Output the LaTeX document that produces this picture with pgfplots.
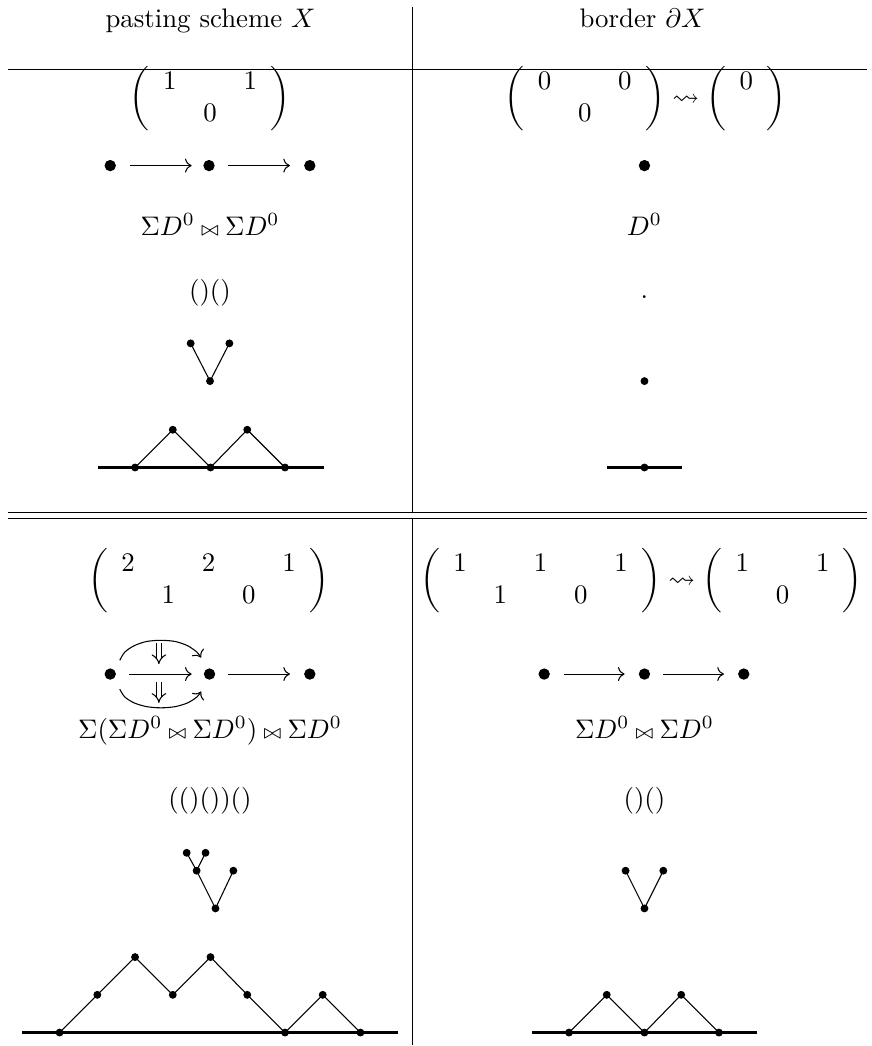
\documentclass[border=0pt]{standalone}
\usepackage{amsmath,amssymb}
\usepackage{pgfplots}
\pgfplotsset{compat=1.18}
\usetikzlibrary{arrows.meta}

% one axis unit = one pixel of the reference (873 x 1046), y downwards
\tikzset{
  rule/.style={black, line width=0.4pt},
  edge/.style={black, line width=0.4pt},
  ground/.style={black, line width=1pt},
  arr/.style={black, line width=0.4pt, -{Computer Modern Rightarrow}},
  darr/.style={black, line width=0.4pt, double, double distance=1.5pt, -{Implies}},
}
\pgfplotsset{
  dot/.style={only marks, mark=*, mark size=1.25pt, black, mark options={fill=black}},
  bigdot/.style={only marks, mark=*, mark size=1.9pt, black, mark options={fill=black}},
}
\newcommand{\bt}{\mathbin{\scriptstyle\bowtie}}
\newcommand{\mat}[2]{\biggl(\begin{array}{#1}#2\end{array}\biggr)}

\begin{document}
\begin{tikzpicture}
\begin{axis}[
  scale only axis, width=323.3pt, height=387.4pt,
  xmin=0, xmax=873, ymin=0, ymax=1046, y dir=reverse,
  hide axis, clip=false,
]
\addplot[draw=none] coordinates {(0,0) (873,1046)};

% table rules
\addplot[rule] coordinates {(415,0) (415,509.5)};
\addplot[rule] coordinates {(415,515) (415,1046)};
\addplot[rule] coordinates {(8,63.5) (873,63.5)};
\addplot[rule] coordinates {(8,509.5) (873,509.5)};
\addplot[rule] coordinates {(8,515) (873,515)};

% header
\node[anchor=base] at (axis cs:212,21) {pasting scheme $X$};
\node[anchor=base] at (axis cs:647,21) {border $\partial X$};

% ---------- first block ----------
\node at (axis cs:211.5,93) {$\mat{ccc}{1&&1\\&0&}$};
\node at (axis cs:650,93) {$\mat{ccc}{0&&0\\&0&}\rightsquigarrow\mat{c}{0\\ \phantom{0}}$};

\addplot[arr] coordinates {(131,160) (193,160)};
\addplot[arr] coordinates {(230,160) (292,160)};
\addplot[bigdot] coordinates {(111,160) (210.5,160) (312,160)};
\addplot[bigdot] coordinates {(649,160)};

\node[anchor=base] at (axis cs:211.5,230) {$\Sigma D^0 \bt \Sigma D^0$};
\node[anchor=base] at (axis cs:649,230) {$D^0$};

\node[anchor=base] at (axis cs:211.5,295) {$()()$};
\node[anchor=base] at (axis cs:649,294) {.};

\addplot[edge] coordinates {(192,339) (211.5,377) (231,339)};
\addplot[dot] coordinates {(192,339) (231,339) (211.5,377)};
\addplot[dot] coordinates {(649,377)};

\addplot[ground] coordinates {(99,464) (326,464)};
\addplot[edge] coordinates {(136,464) (174,426) (212,464) (249,426) (287,464)};
\addplot[dot] coordinates {(136,464) (174,426) (212,464) (249,426) (287,464)};
\addplot[ground] coordinates {(611,464) (687,464)};
\addplot[dot] coordinates {(649,464)};

% ---------- second block ----------
\node at (axis cs:210,578) {$\mat{ccccc}{2&&2&&1\\&1&&0&}$};
\node at (axis cs:646,578) {$\mat{ccccc}{1&&1&&1\\&1&&0&}\rightsquigarrow\mat{ccc}{1&&1\\&0&}$};

% 2-cells
\addplot[arr, smooth] coordinates {(120.6,658.2) (125.6,650) (135,643.5) (147.6,639.2)
  (162,638) (176.4,639.2) (189,643.5) (198.4,650) (202.6,655.5)};
\addplot[arr, smooth] coordinates {(120.6,687.2) (125.6,695) (135,701) (147.6,704.8)
  (162,706) (176.4,704.8) (189,701) (198.4,695) (202.6,689.5)};
\addplot[darr] coordinates {(160,641) (160,662)};
\addplot[darr] coordinates {(160,680) (160,701)};
\addplot[arr] coordinates {(130,672) (193,672)};
\addplot[arr] coordinates {(230,672) (292,672)};
\addplot[bigdot] coordinates {(111,672) (211,672) (312,672)};

\addplot[arr] coordinates {(568,672) (629,672)};
\addplot[arr] coordinates {(668,672) (729,672)};
\addplot[bigdot] coordinates {(548,672) (649,672) (749,672)};

\node[anchor=base] at (axis cs:211.5,737) {$\Sigma(\Sigma D^0 \bt \Sigma D^0) \bt \Sigma D^0$};
\node[anchor=base] at (axis cs:649,737) {$\Sigma D^0 \bt \Sigma D^0$};

\node[anchor=base] at (axis cs:211.5,806) {$(()())()$};
\node[anchor=base] at (axis cs:649,806) {$()()$};

\addplot[edge] coordinates {(188,852) (198,870) (207,852)};
\addplot[edge] coordinates {(198,870) (217,908) (235,870)};
\addplot[dot] coordinates {(188,852) (207,852) (198,870) (235,870) (217,908)};
\addplot[edge] coordinates {(630,870) (649,908) (668,870)};
\addplot[dot] coordinates {(630,870) (668,870) (649,908)};

\addplot[ground] coordinates {(22,1033) (401,1033)};
\addplot[edge] coordinates {(60,1033) (98,995) (136,957) (174,995) (212,957) (249,995)
  (287,1033) (325,995) (363,1033)};
\addplot[dot] coordinates {(60,1033) (98,995) (136,957) (174,995) (212,957) (249,995)
  (287,1033) (325,995) (363,1033)};
\addplot[ground] coordinates {(536,1033) (762,1033)};
\addplot[edge] coordinates {(573,1033) (611,995) (649,1033) (686,995) (724,1033)};
\addplot[dot] coordinates {(573,1033) (611,995) (649,1033) (686,995) (724,1033)};
\end{axis}
\end{tikzpicture}
\end{document}
